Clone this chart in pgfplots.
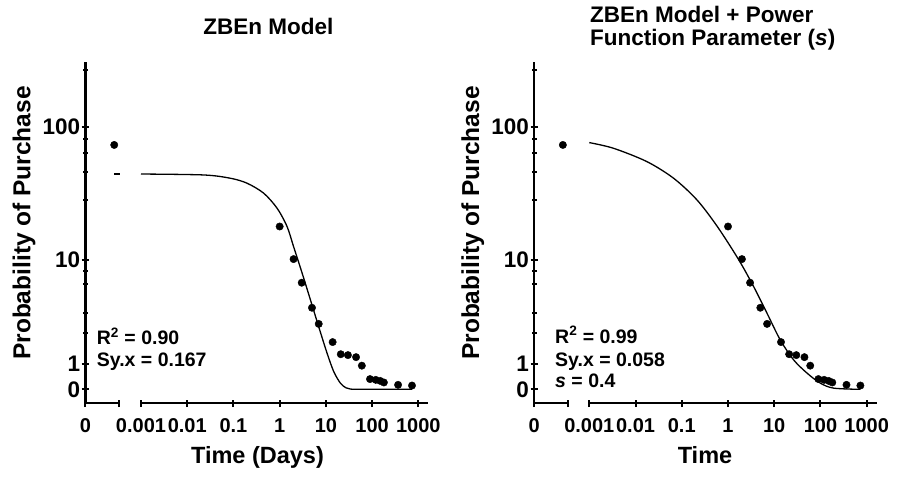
\documentclass[border=0pt]{standalone}
\usepackage{fontspec}
\setmainfont{Liberation Sans}
\usepackage{pgfplots}
\pgfplotsset{compat=1.18}

% y axis: inverse hyperbolic sine scale, asinh(y/2.2)
\pgfplotsset{
  ihsaxis/.style={
    y coord trafo/.code={\pgfmathparse{ln(##1/2.2+10*sqrt((##1/22)*(##1/22)+0.01))}},
    y coord inv trafo/.code={\pgfmathparse{1.1*(exp(##1)-exp(-##1))}},
    ymin=-0.53, ymax=307,
  },
  thicklines/.style={
    axis line style={line width=2.2pt,-},
    every outer x axis line/.style={line width=2.2pt,-},
    every outer y axis line/.style={line width=2.2pt,-},
    every inner x axis line/.style={line width=2.2pt,-},
    every inner y axis line/.style={line width=2.2pt,-},
  },
  panelbase/.style={
    scale only axis, clip=false, height=341.6pt,
    tick style={line width=2pt,black},
    tick align=outside,
    major tick length=7.5pt, minor tick length=4.5pt,
    xticklabel style={font=\fontsize{20}{21}\selectfont\bfseries, inner sep=0pt, yshift=-11pt},
    yticklabel style={font=\fontsize{22.5}{23}\selectfont\bfseries, inner sep=1.5pt},
  },
  zeroseg/.style={panelbase, ihsaxis,
    anchor=south west,
    xmin=0, xmax=1, xtick={0,1}, xticklabels={0,{}},
    axis x line=bottom, axis y line=left, thicklines,
    ytick={0,1,10,100}, yticklabels={0,1,10,100},
    minor ytick={2.5,3.82,6.5,8.2,28.5,46,63.6,81,266},
  },
  logseg/.style={panelbase, ihsaxis,
    anchor=south west,
    xmin=0.001, xmax=1644,
    xtick={0.001,0.01,0.1,1,10,100,1000},
    xticklabels={0.001,0.01,0.1,1,10,100,1000},
    xminorticks=false,
    axis x line=bottom, axis y line=none, thicklines, ytick=\empty,
  },
  datadots/.style={only marks, mark=*, mark size=3.7pt, draw=black, fill=black},
  fitline/.style={no marks, black, line width=1.3pt, smooth, tension=0.5},
}

\pgfplotstableread{
t     p
1     18.0
2     10.2
3     6.7
5     4.2
7     3.03
14    1.99
21    1.41
30    1.37
45    1.28
60    0.92
90    0.39
120   0.36
150   0.32
180   0.26
365   0.17
730   0.144
}\purchase

\pgfplotstableread{
t       p
0.001   44.5
0.0226  43.8
0.0857  41.4
0.197   38.0
0.451   32.0
0.879   24.7
1.445   18.0
2.0     12.7
3.05    8.0
4.62    4.9
6.98    2.86
10.6    1.46
14.8    0.68
20.6    0.235
27      0.06
34      0.01
56      0
730     0
}\fitzben

\pgfplotstableread{
t       p
0.001   76.4
0.00334 69.3
0.0176  55.1
0.0665  41.4
0.213   28.5
0.587   18.0
1.7     10.1
3.58    6.25
6.98    3.77
13.5    2.10
26.3    1.16
51.3    0.62
99      0.235
193     0.045
730     0
}\fitpower

\begin{document}
\begin{tikzpicture}
\useasboundingbox (0,0) rectangle (898pt,479pt);

% ---- left panel ----
\begin{axis}[zeroseg, at={(85.5pt,75.7pt)}, width=33.8pt]
\addplot[datadots] coordinates {(0.85,73.4)};
\addplot[fitline] coordinates {(0.85,44.6) (1,44.6)};
\end{axis}
\begin{axis}[xmode=log, logseg, at={(141pt,75.7pt)}, width=287.3pt]
\addplot[fitline] table[x=t,y=p] {\fitzben};
\addplot[datadots] table[x=t,y=p] {\purchase};
\end{axis}

% ---- right panel ----
\begin{axis}[zeroseg, at={(534.3pt,75.7pt)}, width=34pt]
\addplot[datadots] coordinates {(0.84,73.4)};
\end{axis}
\begin{axis}[xmode=log, logseg, at={(589.3pt,75.7pt)}, width=287.4pt]
\addplot[fitline] table[x=t,y=p] {\fitpower};
\addplot[datadots] table[x=t,y=p] {\purchase};
\end{axis}

% titles, axis labels, fit statistics
\begin{scope}[every node/.style={inner sep=0pt}]
\node[anchor=base, font=\fontsize{22.5}{22.3}\selectfont\bfseries] at (268.3pt,444pt) {ZBEn Model};
\node[anchor=north west, align=left, font=\fontsize{22.5}{22.3}\selectfont\bfseries] at (590pt,472.6pt)
  {ZBEn Model + Power\\Function Parameter (\textit{s})};

\node[anchor=base, rotate=90, font=\fontsize{24.5}{25}\selectfont\bfseries] at (30.5pt,256pt) {Probability of Purchase};
\node[anchor=base, rotate=90, font=\fontsize{24.5}{25}\selectfont\bfseries] at (479pt,256pt) {Probability of Purchase};
\node[anchor=base, font=\fontsize{23.5}{24}\selectfont\bfseries] at (257.5pt,15pt) {Time (Days)};
\node[anchor=base, font=\fontsize{23.5}{24}\selectfont\bfseries] at (705pt,15pt) {Time};

\begin{scope}[every node/.append style={anchor=base west, font=\fontsize{19.5}{20}\selectfont\bfseries}]
\node at (96.7pt,134pt) {R\textsuperscript{2} = 0.90};
\node at (96.7pt,112.3pt) {Sy.x = 0.167};
\node at (555pt,135.7pt) {R\textsuperscript{2} = 0.99};
\node at (555pt,112.3pt) {Sy.x = 0.058};
\node at (555pt,91.7pt) {\textit{s} = 0.4};
\end{scope}
\end{scope}
\end{tikzpicture}
\end{document}
